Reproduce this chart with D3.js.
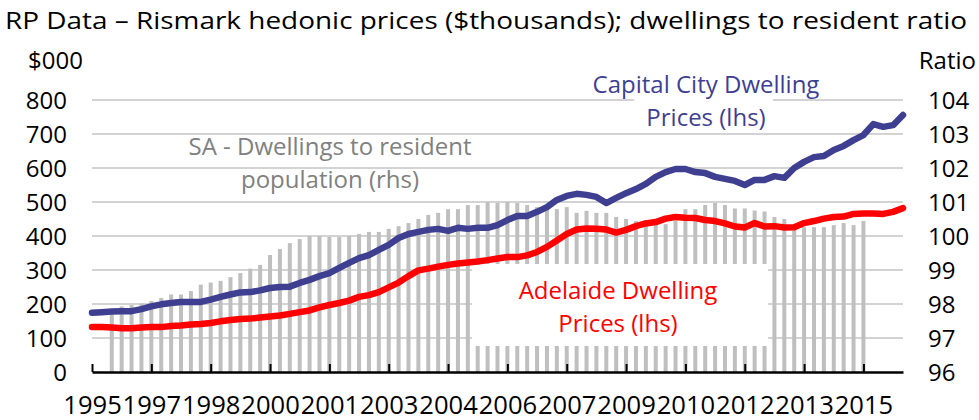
<!DOCTYPE html>
<html>
<head>
<meta charset="utf-8">
<script src="https://cdnjs.cloudflare.com/ajax/libs/d3/7.8.5/d3.min.js"></script>
<style>
  body { margin: 0; background: #fff; }
  text { font-family: "Open Sans", "Noto Sans", sans-serif; }
</style>
</head>
<body>
<div id="chart"></div>
<script>
// quarterly axis labels (one every 6 quarters, first tick = Sep 1995)
const xTickLabels = ["1995", "1997", "1998", "2000", "2001", "2003", "2004",
                     "2006", "2007", "2009", "2010", "2012", "2013", "2015"];
const leftTicks = [0, 100, 200, 300, 400, 500, 600, 700, 800];
const rightTicks = [96, 97, 98, 99, 100, 101, 102, 103, 104];

// Capital city hedonic price, $000, quarterly from Sep 1995
const capitalCity = [174, 176, 178, 179, 179, 185, 193, 199, 203, 206,
                     206, 206, 213, 221, 228, 234, 235, 240, 247, 250,
                     251, 262, 271, 282, 291, 306, 321, 335, 344, 359,
                     374, 394, 406, 412, 418, 421, 415, 424, 421, 424,
                     424, 432, 447, 459, 459, 471, 485, 506, 518, 524,
                     521, 515, 497, 512, 526, 538, 553, 574, 588, 597,
                     597, 588, 585, 574, 568, 562, 550, 565, 565, 576,
                     571, 600, 618, 632, 635, 653, 665, 682, 697, 729,
                     721, 726, 756];

// Adelaide hedonic price, $000, quarterly from Sep 1995
const adelaide = [132, 132, 131, 129, 129, 131, 132, 132, 135, 137,
                  140, 141, 144, 149, 153, 156, 157, 160, 163, 166,
                  171, 176, 181, 190, 197, 203, 210, 221, 226, 235,
                  249, 263, 282, 299, 304, 310, 315, 319, 322, 325,
                  329, 334, 338, 338, 343, 353, 368, 387, 406, 419,
                  422, 421, 419, 410, 418, 429, 437, 441, 451, 456,
                  454, 453, 447, 444, 437, 428, 425, 438, 428, 429,
                  425, 426, 438, 444, 451, 456, 457, 465, 466, 466,
                  465, 471, 482];

// SA dwellings to resident population ratio, quarterly from Mar 1996
const ratioStart = 2;
const dwellingRatio = [97.76, 97.93, 97.97, 98.01, 98.09, 98.18, 98.28, 98.28, 98.38, 98.57,
                       98.63, 98.68, 98.79, 98.91, 99.04, 99.15, 99.44, 99.62, 99.79, 99.91,
                       100.0, 100.0, 99.97, 99.97, 100.0, 100.06, 100.12, 100.12, 100.21, 100.29,
                       100.38, 100.5, 100.62, 100.68, 100.79, 100.79, 100.91, 100.91, 101.0, 100.97,
                       101.0, 100.97, 100.91, 100.85, 100.79, 100.79, 100.85, 100.68, 100.74, 100.68,
                       100.68, 100.56, 100.5, 100.44, 100.47, 100.41, 100.35, 100.44, 100.79, 100.79,
                       100.91, 100.97, 100.91, 100.81, 100.81, 100.75, 100.72, 100.56, 100.5, 100.25,
                       100.26, 100.26, 100.26, 100.32, 100.38, 100.32, 100.44];

let width = 979,
    height = 420;

const svg = d3.select("#chart")
      .append("svg")
      .attr("width", width)
      .attr("height", height);

const plotLeft = 92, plotRight = 903, plotTop = 100, plotBottom = 372;

const x = d3.scaleLinear().domain([0, 82]).range([plotLeft, plotRight]);
const yL = d3.scaleLinear().domain([0, 800]).range([plotBottom, plotTop]);
const yR = d3.scaleLinear().domain([96, 104]).range([plotBottom, plotTop]);

// title + axis units
svg.append("text")
  .attr("x", 5).attr("y", 29)
  .attr("font-size", 24)
  .attr("textLength", 962)
  .attr("lengthAdjust", "spacingAndGlyphs")
  .text("RP Data \u2013 Rismark hedonic prices ($thousands); dwellings to resident ratio");

svg.append("text")
  .attr("x", 28).attr("y", 69)
  .attr("font-size", 24)
  .text("$000");

svg.append("text")
  .attr("x", 976).attr("y", 69)
  .attr("font-size", 24)
  .attr("text-anchor", "end")
  .text("Ratio");

// gridlines
svg.append("g")
  .selectAll("line")
  .data(leftTicks.filter(function (d) { return d > 0; }))
  .enter().append("line")
  .attr("x1", plotLeft).attr("x2", plotRight)
  .attr("y1", function (d) { return yL(d); })
  .attr("y2", function (d) { return yL(d); })
  .style("stroke", "#c4c4c4")
  .style("stroke-width", 1.6);

// ratio bars
svg.append("g")
  .selectAll("rect")
  .data(dwellingRatio)
  .enter().append("rect")
  .attr("x", function (d, i) { return x(i + ratioStart) - 2; })
  .attr("width", 4)
  .attr("y", function (d) { return yR(d); })
  .attr("height", function (d) { return yR(96) - yR(d); })
  .style("fill", "#bfbfbf");

// white label boxes
svg.append("rect")
  .attr("x", 472).attr("y", 264)
  .attr("width", 296).attr("height", 82)
  .style("fill", "#fff");
svg.append("rect")
  .attr("x", 634).attr("y", 96)
  .attr("width", 139).attr("height", 34)
  .style("fill", "#fff");

const line = d3.line()
  .x(function (d, i) { return x(i); })
  .y(function (d) { return yL(d); });

svg.append("path")
  .datum(adelaide)
  .attr("d", line)
  .style("fill", "none")
  .style("stroke", "#ff0000")
  .style("stroke-width", 6.5)
  .style("stroke-linejoin", "round")
  .style("stroke-linecap", "round");

svg.append("path")
  .datum(capitalCity)
  .attr("d", line)
  .style("fill", "none")
  .style("stroke", "#3f3f91")
  .style("stroke-width", 6.5)
  .style("stroke-linejoin", "round")
  .style("stroke-linecap", "round");

// x axis, ticks pointing up
const xAxis = d3.axisBottom(x)
  .tickValues(d3.range(0, 79, 6))
  .tickSizeInner(-8)
  .tickSizeOuter(0)
  .tickPadding(0)
  .tickFormat(function (d) { return xTickLabels[d / 6]; });

const gx = svg.append("g")
  .attr("transform", "translate(0," + plotBottom + ")")
  .call(xAxis);
gx.select(".domain").style("stroke", "#000").style("stroke-width", 2.5);
gx.selectAll(".tick line").style("stroke", "#000").style("stroke-width", 2);
gx.selectAll(".tick text")
  .attr("y", 42)
  .attr("dy", 0)
  .attr("fill", "#000")
  .style("font-family", "'Liberation Sans Narrow', 'Open Sans', sans-serif")
  .style("font-size", "25px")
  .attr("textLength", 58.5)
  .attr("lengthAdjust", "spacingAndGlyphs");

// left + right value axes
const gl = svg.append("g")
  .attr("transform", "translate(" + plotLeft + ",0)")
  .call(d3.axisLeft(yL).tickValues(leftTicks).tickSize(0).tickPadding(25));
gl.select(".domain").remove();
gl.selectAll("text").style("font-size", "24px").attr("fill", "#000").attr("dy", "0.36em");

const gr = svg.append("g")
  .attr("transform", "translate(" + plotRight + ",0)")
  .call(d3.axisRight(yR).tickValues(rightTicks).tickSize(0).tickPadding(25));
gr.select(".domain").remove();
gr.selectAll("text").style("font-size", "24px").attr("fill", "#000").attr("dy", "0.36em");

// series labels
function label(lines, cx, y0, color) {
  svg.append("g").selectAll("text")
    .data(lines)
    .enter().append("text")
    .attr("x", cx)
    .attr("y", function (d, i) { return y0 + i * 33; })
    .attr("text-anchor", "middle")
    .attr("font-size", 24)
    .attr("fill", color)
    .text(function (d) { return d; });
}

label(["Capital City Dwelling", "Prices (lhs)"], 706, 93, "#3f3f91");
label(["SA - Dwellings to resident", "population (rhs)"], 330, 155, "#808080");
label(["Adelaide Dwelling", "Prices (lhs)"], 618, 299, "#ff0000");
</script>
</body>
</html>
